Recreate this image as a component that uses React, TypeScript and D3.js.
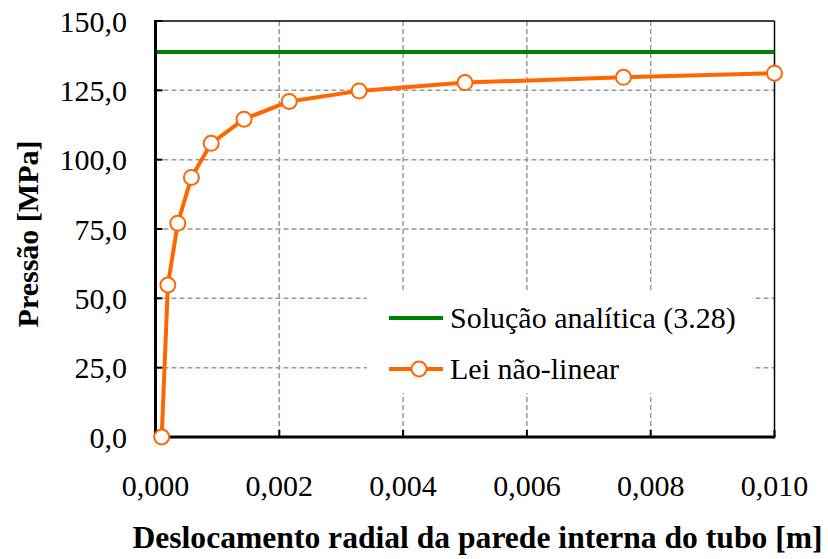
import React from "react";
import * as d3 from "d3";

const xValues = [0.0001, 0.0002, 0.00036, 0.00058, 0.0009, 0.00143, 0.00216, 0.00329, 0.005, 0.00756, 0.01];
const yValues = [0.0, 54.8, 77.1, 93.6, 105.9, 114.6, 121.0, 124.8, 127.8, 129.7, 131.2];
const analyticValue = 138.8;
const xTicks = [0, 0.002, 0.004, 0.006, 0.008, 0.01];
const yTicks = [0, 25, 50, 75, 100, 125, 150];
const seriesNames = ["Solução analítica (3.28)", "Lei não-linear"];
const xTitle = "Deslocamento radial da parede interna do tubo [m]";
const yTitle = "Pressão [MPa]";

const W = 828;
const H = 559;
const L = 155.5, R = 774.5, T = 21, B = 437;
const ORANGE = "#FF6600";
const GREEN = "#008000";
const FONT = "Liberation Serif";

export default function App() {
  const x = d3.scaleLinear().domain([0, 0.01]).range([L, R]);
  const y = d3.scaleLinear().domain([0, 150]).range([B, T]);
  const pts = xValues.map((v, i) => [x(v), y(yValues[i])] as [number, number]);
  const line = d3.line()(pts) || "";
  const fmtX = (v: number) => v.toFixed(3).replace(".", ",");
  const fmtY = (v: number) => v.toFixed(1).replace(".", ",");

  const lg = { x0: 367, y0: 292, x1: 752, y1: 393 };
  const ts = { fontFamily: FONT, fontSize: 30 } as React.CSSProperties;

  return (
    <svg width={W} height={H} style={{ position: "absolute", left: 0, top: 0, background: "#fff" }}>
      <rect x={0} y={0} width={W} height={H} fill="#fff" />
      {yTicks.filter(t => t > 0 && t < 150).map(t => (
        <line key={"gy" + t} x1={L} x2={R} y1={y(t)} y2={y(t)} stroke="#999" strokeWidth={1.5} strokeDasharray="5,3" />
      ))}
      {xTicks.filter(t => t > 0 && t < 0.01).map(t => (
        <line key={"gx" + t} x1={x(t)} x2={x(t)} y1={T} y2={B} stroke="#999" strokeWidth={1.5} strokeDasharray="5,3" />
      ))}
      <rect x={lg.x0} y={lg.y0} width={lg.x1 - lg.x0} height={lg.y1 - lg.y0} fill="#fff" />
      <line x1={L} x2={R} y1={T} y2={T} stroke="#000" strokeWidth={1.5} />
      <line x1={R} x2={R} y1={T} y2={B} stroke="#000" strokeWidth={1.5} />
      <line x1={L} x2={R} y1={y(analyticValue)} y2={y(analyticValue)} stroke={GREEN} strokeWidth={4} />
      <path d={line} fill="none" stroke={ORANGE} strokeWidth={4} strokeLinejoin="round" />
      <line x1={L} x2={L} y1={T - 1} y2={B + 1.5} stroke="#000" strokeWidth={3} />
      <line x1={L - 1.5} x2={R + 0.75} y1={B} y2={B} stroke="#000" strokeWidth={3} />
      {yTicks.map(t => (
        <line key={"ty" + t} x1={L} x2={L + 7} y1={y(t)} y2={y(t)} stroke="#000" strokeWidth={2} />
      ))}
      {xTicks.map(t => (
        <line key={"tx" + t} x1={x(t)} x2={x(t)} y1={B} y2={B - 7} stroke="#000" strokeWidth={2} />
      ))}
      {pts.map((p, i) => (
        <circle key={"m" + i} cx={p[0]} cy={p[1]} r={7.5} fill="#fff" stroke={ORANGE} strokeWidth={2} />
      ))}
      {yTicks.map(t => (
        <text key={"ly" + t} x={127} y={y(t) + 10.5} textAnchor="end" style={ts} fill="#000">{fmtY(t)}</text>
      ))}
      {xTicks.map(t => (
        <text key={"lx" + t} x={x(t)} y={496} textAnchor="middle" style={ts} fill="#000">{fmtX(t)}</text>
      ))}
      <text x={477.5} y={548} textAnchor="middle" style={{ ...ts, fontSize: 31.6, fontWeight: "bold" }} fill="#000">{xTitle}</text>
      <text transform={`translate(38,234) rotate(-90)`} textAnchor="middle" style={{ ...ts, fontWeight: "bold" }} fill="#000">{yTitle}</text>
      <line x1={389} x2={443} y1={318} y2={318} stroke={GREEN} strokeWidth={4} />
      <text x={450} y={328} style={ts} fill="#000">{seriesNames[0]}</text>
      <line x1={389} x2={443} y1={369} y2={369} stroke={ORANGE} strokeWidth={4} />
      <circle cx={419} cy={369} r={7.5} fill="#fff" stroke={ORANGE} strokeWidth={2} />
      <text x={450} y={379} style={ts} fill="#000">{seriesNames[1]}</text>
    </svg>
  );
}
